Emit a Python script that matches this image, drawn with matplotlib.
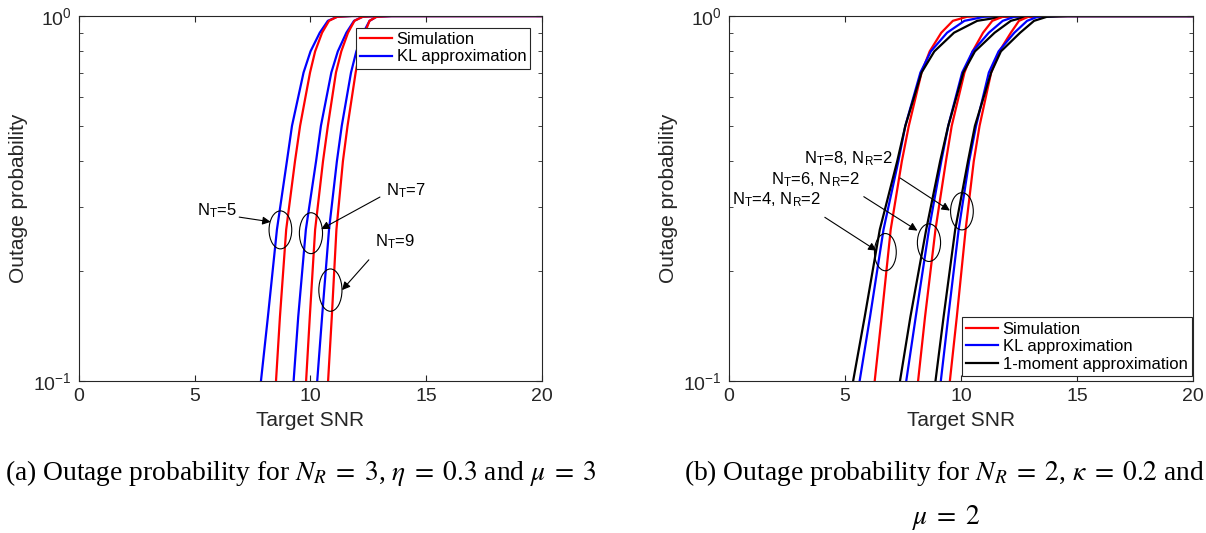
import matplotlib
matplotlib.use("Agg")
import matplotlib.pyplot as plt
import numpy as np
from matplotlib.patches import Ellipse
from matplotlib.ticker import LogLocator, NullFormatter

plt.rcParams['font.family'] = ['Liberation Sans', 'DejaVu Sans']
plt.rcParams['mathtext.fontset'] = 'custom'
plt.rcParams['mathtext.rm'] = 'Liberation Sans'
plt.rcParams['mathtext.it'] = 'Liberation Sans'

# outage probability levels where curves were read
p_levels = [0.1, 0.15, 0.26, 0.4, 0.5, 0.7, 0.8, 0.9, 0.97, 0.995, 1.0]

# (a) N_R = 3, eta = 0.3, mu = 3 : target SNR at each level
a_sim = {
    5: [8.51, 8.68, 8.95, 9.33, 9.55, 9.98, 10.20, 10.50, 10.80, 11.15, 11.8],
    7: [9.81, 9.97, 10.20, 10.54, 10.75, 11.10, 11.33, 11.62, 11.90, 12.25, 12.9],
    9: [10.76, 10.92, 11.12, 11.40, 11.60, 11.95, 12.12, 12.35, 12.55, 12.85, 13.5],
}
a_kl = {
    5: [7.86, 8.16, 8.55, 8.98, 9.20, 9.70, 10.00, 10.40, 10.75, 11.15, 11.8],
    7: [9.27, 9.47, 9.80, 10.24, 10.45, 10.90, 11.18, 11.55, 11.88, 12.25, 12.9],
    9: [10.29, 10.50, 10.80, 11.14, 11.35, 11.75, 11.98, 12.28, 12.55, 12.85, 13.5],
}

# (b) N_R = 2, kappa = 0.2, mu = 2
b_sim = {
    4: [6.28, 6.58, 6.97, 7.45, 7.75, 8.30, 8.65, 9.15, 9.65, 10.25, 11.0],
    6: [8.15, 8.45, 8.90, 9.35, 9.60, 10.15, 10.50, 10.95, 11.35, 11.80, 12.6],
    8: [9.52, 9.82, 10.20, 10.55, 10.80, 11.30, 11.65, 12.15, 12.50, 12.90, 13.7],
}
b_kl = {
    4: [5.63, 6.08, 6.66, 7.30, 7.60, 8.25, 8.70, 9.40, 10.15, 11.00, 12.0],
    6: [7.64, 8.05, 8.62, 9.15, 9.45, 10.05, 10.50, 11.20, 11.80, 12.30, 13.2],
    8: [9.13, 9.45, 9.90, 10.35, 10.65, 11.20, 11.62, 12.30, 12.85, 13.30, 14.2],
}
b_mom = {
    4: [5.35, 5.85, 6.50, 7.25, 7.60, 8.30, 8.85, 9.70, 10.70, 11.80, 13.0],
    6: [7.37, 7.82, 8.50, 9.10, 9.45, 10.10, 10.60, 11.45, 12.15, 12.80, 13.8],
    8: [8.90, 9.25, 9.75, 10.30, 10.60, 11.30, 11.72, 12.55, 13.15, 13.70, 14.6],
}

snr_max = 20
axis_col = '#262626'


def curve(xs):
    return list(xs) + [snr_max], p_levels + [1.0]


def style_axes(ax):
    ax.set_yscale('log')
    ax.set_xlim(0, snr_max)
    ax.set_ylim(0.1, 1)
    ax.set_xticks([0, 5, 10, 15, 20])
    ax.yaxis.set_major_locator(LogLocator(base=10, numticks=5))
    ax.yaxis.set_minor_locator(LogLocator(base=10, subs=np.arange(2, 10), numticks=10))
    ax.yaxis.set_minor_formatter(NullFormatter())
    ax.tick_params(which='both', direction='in', top=True, right=True,
                   colors=axis_col, labelsize=14, pad=5)
    ax.tick_params(which='major', length=4)
    ax.tick_params(which='minor', length=3)
    for s in ax.spines.values():
        s.set_color(axis_col)
        s.set_linewidth(0.8)
    ax.set_xlabel('Target SNR', fontsize=15, color=axis_col, labelpad=4)
    ax.set_ylabel('Outage probability', fontsize=15, color=axis_col, labelpad=4)


def mark(ax, cx, cy, w, h):
    ax.add_patch(Ellipse((cx, cy), w, h, transform=ax.transAxes,
                         fill=False, ec='black', lw=0.8, zorder=5))


def arrow(ax, start, end):
    ax.annotate('', xy=end, xytext=start, xycoords='axes fraction',
                textcoords='axes fraction',
                arrowprops=dict(arrowstyle='-|>', color='black', lw=0.8,
                                mutation_scale=12, shrinkA=0, shrinkB=0))


fig = plt.figure(figsize=(12.06, 5.33), dpi=100)
ax1 = fig.add_axes([79 / 1206, 152 / 533, 463 / 1206, 365 / 533])
ax2 = fig.add_axes([729 / 1206, 152 / 533, 464 / 1206, 365 / 533])

# left panel
for k in [5, 7, 9]:
    x, y = curve(a_kl[k])
    ax1.plot(x, y, color='blue', lw=1.6, label='KL approximation' if k == 5 else None)
    x, y = curve(a_sim[k])
    ax1.plot(x, y, color='red', lw=1.6, label='Simulation' if k == 5 else None)
style_axes(ax1)
h, l = ax1.get_legend_handles_labels()
leg = ax1.legend([h[1], h[0]], [l[1], l[0]], loc='upper right',
                 bbox_to_anchor=(0.975, 0.968), borderaxespad=0, fontsize=12,
                 fancybox=False, framealpha=1, edgecolor=axis_col,
                 handlelength=1.9, handletextpad=0.3, labelspacing=0.15,
                 borderpad=0.25)
leg.get_frame().set_linewidth(0.8)

mark(ax1, 0.435, 0.414, 0.049, 0.104)
mark(ax1, 0.501, 0.405, 0.050, 0.112)
mark(ax1, 0.543, 0.249, 0.050, 0.116)
ax1.text(0.255, 0.468, r'N$_{\mathrm{T}}$=5', transform=ax1.transAxes,
         fontsize=12, va='center')
ax1.text(0.663, 0.521, r'N$_{\mathrm{T}}$=7', transform=ax1.transAxes,
         fontsize=12, va='center')
ax1.text(0.639, 0.381, r'N$_{\mathrm{T}}$=9', transform=ax1.transAxes,
         fontsize=12, va='center')
arrow(ax1, (0.346, 0.449), (0.414, 0.436))
arrow(ax1, (0.650, 0.504), (0.523, 0.416))
arrow(ax1, (0.626, 0.332), (0.568, 0.249))

# right panel
for k in [4, 6, 8]:
    x, y = curve(b_sim[k])
    ax2.plot(x, y, color='red', lw=1.6, label='Simulation' if k == 4 else None)
    x, y = curve(b_kl[k])
    ax2.plot(x, y, color='blue', lw=1.6, label='KL approximation' if k == 4 else None)
    x, y = curve(b_mom[k])
    ax2.plot(x, y, color='black', lw=1.6,
             label='1-moment approximation' if k == 4 else None)
style_axes(ax2)
leg2 = ax2.legend(loc='lower right', bbox_to_anchor=(0.997, 0.0145),
                  borderaxespad=0, fontsize=12, fancybox=False, framealpha=1,
                  edgecolor=axis_col, handlelength=1.9, handletextpad=0.3,
                  labelspacing=0.15, borderpad=0.25)
leg2.get_frame().set_linewidth(0.8)

mark(ax2, 0.337, 0.353, 0.047, 0.102)
mark(ax2, 0.431, 0.379, 0.050, 0.103)
mark(ax2, 0.502, 0.465, 0.049, 0.102)
ax2.text(0.162, 0.608, r'N$_{\mathrm{T}}$=8, N$_{\mathrm{R}}$=2',
         transform=ax2.transAxes, fontsize=12, va='center')
ax2.text(0.0905, 0.552, r'N$_{\mathrm{T}}$=6, N$_{\mathrm{R}}$=2',
         transform=ax2.transAxes, fontsize=12, va='center')
ax2.text(0.0065, 0.496, r'N$_{\mathrm{T}}$=4, N$_{\mathrm{R}}$=2',
         transform=ax2.transAxes, fontsize=12, va='center')
arrow(ax2, (0.369, 0.556), (0.476, 0.467))
arrow(ax2, (0.2905, 0.505), (0.406, 0.412))
arrow(ax2, (0.2065, 0.4485), (0.318, 0.357))

# captions
cap = dict(fontsize=19.8, family='Liberation Serif', math_fontfamily='stix')
fig.text(5 / 1206, 1 - 480 / 533,
         r'(a) Outage probability for $N_R\;=\;3$, $\eta\;=\;0.3$ and $\mu\;=\;3$',
         va='baseline', **cap)
fig.text(684 / 1206, 1 - 480 / 533,
         r'(b) Outage probability for $N_R\;=\;2$, $\kappa\;=\;0.2$ and',
         va='baseline', **cap)
fig.text(946 / 1206, 1 - 524 / 533, r'$\mu\;=\;2$', ha='center',
         va='baseline', **cap)

fig.savefig('out.png', dpi=100)
